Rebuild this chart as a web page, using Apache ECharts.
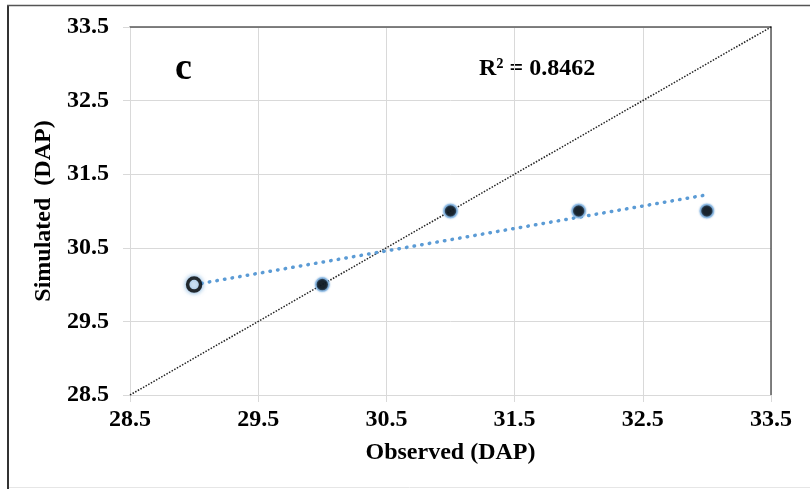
<!DOCTYPE html>
<html><head><meta charset="utf-8">
<script src="https://cdn.jsdelivr.net/npm/echarts@6/dist/echarts.min.js"></script>
<style>html,body{margin:0;padding:0;background:#fff}#c{width:810px;height:489px}</style>
</head><body><div id="c"></div>
<script>
const observed = [29, 30, 31, 32, 33];
const simulated = [30, 30, 31, 31, 31];
const trendX = [29, 33];
const trendY = [30.0, 31.22];
const oneToOne = [28.5, 33.5];
const axisMin = 28.5, axisMax = 33.5, axisStep = 1;
const panelLabel = 'c';
const r2Text = 'R² = 0.8462';

const font = '"Liberation Serif", "Times New Roman", serif';
const chart = echarts.init(document.getElementById('c'));
const pts = observed.map((x, i) => i === 0
  ? { value: [x, simulated[i]], itemStyle: { color: '#ffffff', borderColor: '#000', borderWidth: 3.5, shadowColor: '#5b9bd5', shadowBlur: 5 } }
  : [x, simulated[i]]);
chart.setOption({
  animation: false,
  grid: { left: 130, right: 39, top: 27, bottom: 94 },
  xAxis: [{
    type: 'value', min: axisMin, max: axisMax, interval: axisStep,
    name: 'Observed (DAP)', nameLocation: 'middle', nameGap: 46,
    nameTextStyle: { fontFamily: font, fontWeight: 'bold', fontSize: 24, color: '#000' },
    axisLabel: { fontFamily: font, fontWeight: 'bold', fontSize: 24, color: '#000', margin: 13, formatter: v => v.toFixed(1) },
    axisLine: { show: true, lineStyle: { color: '#d9d9d9', width: 1 } },
    axisTick: { show: true, length: 7, lineStyle: { color: '#d9d9d9' } },
    splitLine: { show: true, lineStyle: { color: '#d9d9d9', width: 1 } }
  }, {
    type: 'value', position: 'top', min: axisMin, max: axisMax, interval: axisStep,
    axisLine: { show: true, lineStyle: { color: '#595959', width: 1.5 } },
    axisTick: { show: false }, axisLabel: { show: false }, splitLine: { show: false }
  }],
  yAxis: [{
    type: 'value', min: axisMin, max: axisMax, interval: axisStep,
    name: 'Simulated  (DAP)', nameLocation: 'middle', nameGap: 73,
    nameTextStyle: { fontFamily: font, fontWeight: 'bold', fontSize: 24, color: '#000' },
    axisLabel: { fontFamily: font, fontWeight: 'bold', fontSize: 24, color: '#000', margin: 21, formatter: v => v.toFixed(1) },
    axisLine: { show: true, lineStyle: { color: '#d9d9d9', width: 1 } },
    axisTick: { show: true, length: 7, lineStyle: { color: '#d9d9d9' } },
    splitLine: { show: true, lineStyle: { color: '#d9d9d9', width: 1 } }
  }, {
    type: 'value', position: 'right', min: axisMin, max: axisMax, interval: axisStep,
    axisLine: { show: true, lineStyle: { color: '#595959', width: 1.5 } },
    axisTick: { show: false }, axisLabel: { show: false }, splitLine: { show: false }
  }],
  series: [{
    type: 'line', data: oneToOne.map(v => [v, v]), symbol: 'none',
    lineStyle: { color: '#222', width: 1.5, type: [1.5, 1.5] }, z: 2
  }, {
    type: 'line', data: trendX.map((x, i) => [x, trendY[i]]), symbol: 'none',
    lineStyle: { color: '#5b9bd5', width: 3.5, type: [0.5, 7.2], cap: 'round' }, z: 3
  }, {
    type: 'scatter', data: pts, symbolSize: 13,
    itemStyle: { color: '#000', borderColor: '#8fbbe6', borderWidth: 1.5, shadowColor: '#5b9bd5', shadowBlur: 2 }, z: 4
  }],
  graphic: [
    { type: 'text', left: 175, top: 50, style: { text: panelLabel, font: 'bold 38px ' + font, fill: '#000' } },
    { type: 'text', left: 479, top: 57, style: { text: r2Text, font: 'bold 24px ' + font, fill: '#000' } },
    { type: 'line', shape: { x1: 8, y1: 5, x2: 8, y2: 489 }, style: { stroke: '#333', lineWidth: 2 } },
    { type: 'line', shape: { x1: 7, y1: 5.5, x2: 810, y2: 5.5 }, style: { stroke: '#555', lineWidth: 1.5 } },
    { type: 'line', shape: { x1: 9, y1: 487.5, x2: 810, y2: 487.5 }, style: { stroke: '#e6e6e6', lineWidth: 1 } }
  ]
});
</script></body></html>
